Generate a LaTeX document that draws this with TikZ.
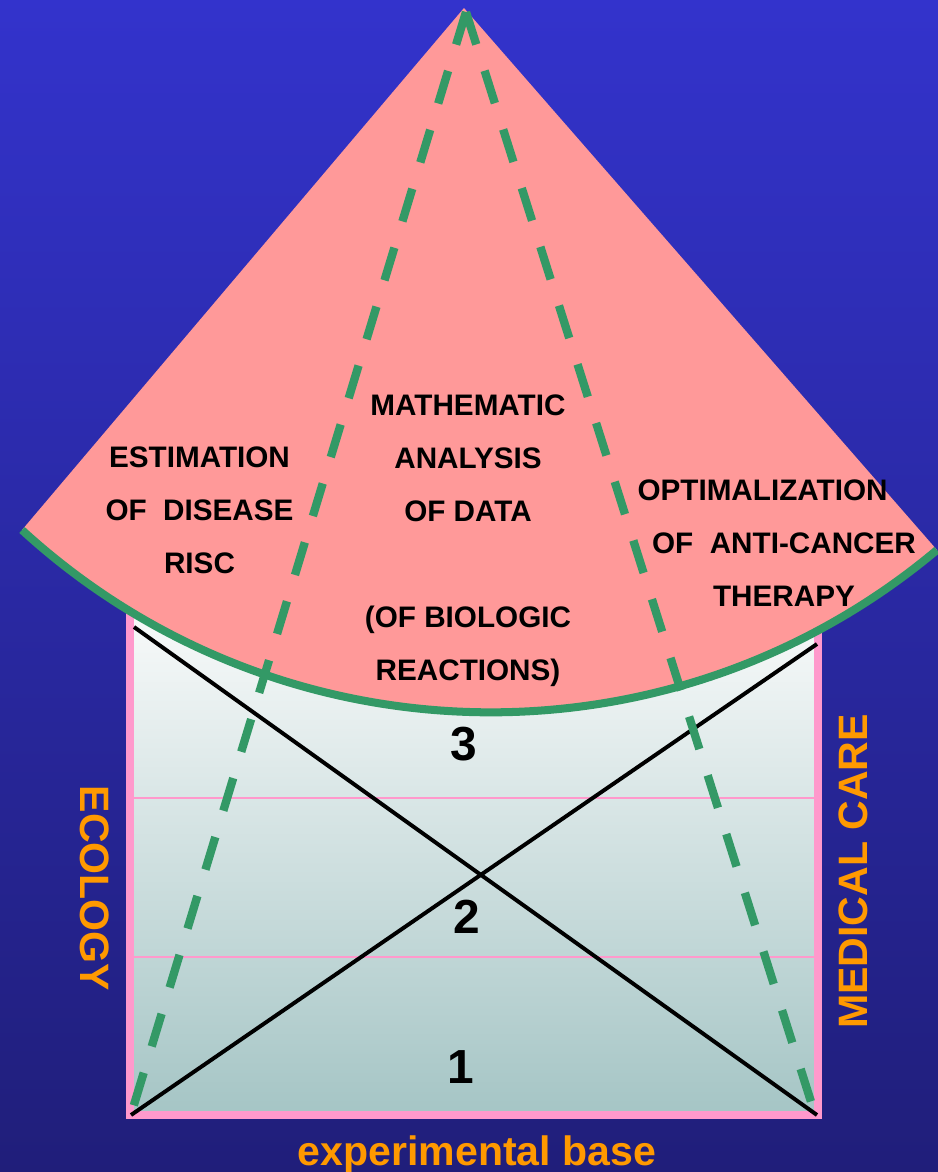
\documentclass[tikz,border=0pt]{standalone}
\usepackage{fontspec}
\setmainfont{Liberation Sans}
\usepackage{xcolor}
\usepackage{tikz}
\usetikzlibrary{shapes,positioning}

\definecolor{skytop}{RGB}{51,51,204}
\definecolor{skybot}{RGB}{32,30,122}
\definecolor{fanred}{RGB}{255,153,153}
\definecolor{rimgreen}{RGB}{51,153,102}
\definecolor{edgepink}{RGB}{255,153,204}
\definecolor{boxtop}{RGB}{250,251,251}
\definecolor{boxbot}{RGB}{165,197,197}
\definecolor{labelorange}{RGB}{255,153,0}

\begin{document}
\begin{tikzpicture}[x=0.025cm, y=-0.025cm]
                    % Define styles
                    \tikzstyle{fan} = [fill=fanred]
                    \tikzstyle{rim} = [draw=rimgreen, line width=5.7pt]
                    \tikzstyle{guide} = [draw=rimgreen, line width=5.9pt, dash pattern=on 24.2pt off 19.6pt]
                    \tikzstyle{basebox} = [draw=edgepink, line width=5.7pt, top color=boxtop, bottom color=boxbot]
                    \tikzstyle{tierline} = [draw=edgepink, line width=2.1pt]
                    \tikzstyle{diag} = [draw, line width=2.8pt]
                    \tikzstyle{fantext} = [align=center, inner sep=0pt, anchor=north, font=\bfseries\fontsize{21.1}{37.7}\selectfont]
                    \tikzstyle{levelnum} = [inner sep=0pt, font=\bfseries\fontsize{34}{40}\selectfont]
                    \tikzstyle{sidelabel} = [inner sep=0pt, text=labelorange, font=\bfseries\fontsize{29.2}{35}\selectfont]

                    % Background
                    \fill[top color=skytop, bottom color=skybot] (0,0) rectangle (938,1172);
                    \useasboundingbox (0,0) rectangle (938,1172);

                    % Corners
                    \coordinate (apex) at (464,8);
                    \coordinate (peak) at (466,12);
                    \coordinate (lend) at (22,530);
                    \coordinate (rend) at (937,550);
                    \coordinate (tl) at (134,627);
                    \coordinate (tr) at (817,644);
                    \coordinate (bl) at (131,1115);
                    \coordinate (br) at (817,1115);
                    \coordinate (lfoot) at (133,1108);
                    \coordinate (rfoot) at (813,1108);

                    % Base box
                    \path[basebox] (130,600) rectangle (818,1115);
                    \foreach \y/\n in {798/a, 957/b} {
                        \coordinate (west\n) at (130,\y);
                        \coordinate (east\n) at (818,\y);
                        \draw[tierline] (west\n) -- (east\n);
                    }
                    \draw[diag] (tl) -- (br);
                    \draw[diag] (bl) -- (tr);

                    % Fan
                    \path[fan] (apex) -- (lend) arc[start angle=132.5, end angle=50, radius=694] -- (rend) -- cycle;
                    \draw[rim] (lend) arc[start angle=132.5, end angle=50, radius=694];
                    \draw[guide] (peak) -- (lfoot);
                    \draw[guide] (peak) -- (rfoot);

                    % Nodes
                    \node[fantext] (risc) at (199.5,446) {ESTIMATION\\OF\ \ DISEASE\\RISC};
                    \node[fantext] (maths) at (468,394) {MATHEMATIC\\ANALYSIS\\OF DATA\\[37.7pt](OF BIOLOGIC\\REACTIONS)};
                    \node[fantext] (therapy) at (784,479) {OPTIMALIZATION\hspace*{1.45em}\\OF\ \ ANTI-CANCER\\THERAPY};
                    \node[levelnum] (lvl3) at (464,744) {3};
                    \node[levelnum] (lvl2) at (467,917) {2};
                    \node[levelnum] (lvl1) at (461,1067) {1};
                    \node[sidelabel, rotate=-90] (ecology) at (95,888.5) {ECOLOGY};
                    \node[sidelabel, rotate=90] (medcare) at (853,871.5) {MEDICAL CARE};
                    \node[sidelabel, anchor=base] (expbase) at (477,1165) {experimental base};
                \end{tikzpicture}
\end{document}
